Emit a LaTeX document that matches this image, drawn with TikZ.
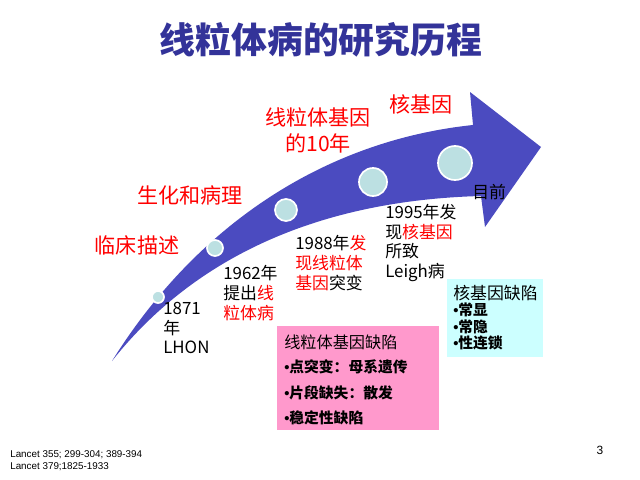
\documentclass[tikz,border=0pt]{standalone}
\usepackage{fontspec}
\setmainfont{Noto Sans CJK SC}
\newfontfamily\reffont{Liberation Sans}
\usepackage{xcolor}
\definecolor{arrowblue}{HTML}{4B4BC0}
\definecolor{titleblue}{HTML}{333399}
\definecolor{dotfill}{HTML}{BCE0E2}
\definecolor{mitobox}{HTML}{FF99CC}
\definecolor{nucbox}{HTML}{CCFFFF}
\usetikzlibrary{positioning, calc}
\newcommand{\bul}{{\reffont •}}

\begin{document}
\begin{tikzpicture}[
        x=0.025cm, y=-0.025cm,
        stage_label/.style={
            text=red,
            font=\fontsize{15}{18.5}\selectfont,
            inner sep=0pt
        },
        event_note/.style={
            anchor=west,
            align=left,
            inner sep=0pt,
            font=\fontsize{12}{14.2}\selectfont
        },
        milestone/.style={
            circle,
            fill=dotfill,
            draw=white,
            line width=1.2pt,
            inner sep=0pt
        },
        defect_box/.style={
            rectangle,
            anchor=north west,
            inner sep=0pt
        },
        box_item/.style={
            anchor=west,
            inner sep=0pt,
            font=\fontsize{10.5}{12}\selectfont\bfseries
        }
    ]
    \useasboundingbox (0,0) rectangle (640,480);

    % Title
    \node[font=\fontsize{25.5}{30}\selectfont\bfseries, text=titleblue] (title) at (321,40) {线粒体病的研究历程};

    % Rising arrow
    \fill[arrowblue] (112,361) .. controls (200,220) and (330,140) .. (473,125)
        -- (470,92) -- (541,147) -- (485,227) -- (481,196)
        .. controls (330,200) and (200,250) .. (112,361) -- cycle;

    % Milestones on the arrow
    \node[milestone, minimum size=0.3cm] (m_1871) at (158,297) {};
    \node[milestone, minimum size=0.4cm] (m_1962) at (215,248) {};
    \node[milestone, minimum size=0.55cm] (m_1988) at (286,210) {};
    \node[milestone, minimum size=0.7cm] (m_1995) at (373,182) {};
    \node[milestone, minimum size=0.85cm] (m_now) at (455,163) {};

    % Stages above the arrow
    \node[stage_label] (s_clinic) at (137,245) {临床描述};
    \node[stage_label] (s_biochem) at (190,195) {生化和病理};
    \node[stage_label, align=center] (s_mito) at (318,130) {线粒体基因\\的10年};
    \node[stage_label] (s_nuc) at (421,104) {核基因};

    % Events below the arrow
    \node[event_note] (n_1871) at (163,328) {1871\\年\\LHON};
    \node[event_note] (n_1962) at (223,293) {1962年\\提出\textcolor{red}{线}\\\textcolor{red}{粒体病}};
    \node[event_note] (n_1988) at (295,263) {1988年\textcolor{red}{发}\\\textcolor{red}{现线粒体}\\\textcolor{red}{基因}突变};
    \node[event_note] (n_1995) at (385,243) {1995年发\\现\textcolor{red}{核基因}\\所致\\Leigh病};
    \node[event_note] (n_now) at (472,192) {目前};

    % Mitochondrial gene defects
    \node[defect_box, fill=mitobox, minimum width=4.03cm, minimum height=2.6cm] (mito_box) at (277,326) {};
    \node[anchor=west, inner sep=0pt, font=\fontsize{11.5}{14}\selectfont] (mito_head) at ($(mito_box.north west)+(7,16)$) {线粒体基因缺陷};
    \node[box_item] (mito_a) at ($(mito_head.west)+(0,25)$) {\bul 点突变：母系遗传};
    \node[box_item] (mito_b) at ($(mito_a.west)+(0,26)$) {\bul 片段缺失：散发};
    \node[box_item] (mito_c) at ($(mito_b.west)+(0,25)$) {\bul 稳定性缺陷};

    % Nuclear gene defects
    \node[defect_box, fill=nucbox, minimum width=2.4cm, minimum height=1.95cm] (nuc_box) at (447,279) {};
    \node[anchor=west, inner sep=0pt, font=\fontsize{12}{14}\selectfont] (nuc_head) at ($(nuc_box.north west)+(6,14)$) {核基因缺陷};
    \node[box_item] (nuc_a) at ($(nuc_head.west)+(0,17)$) {\bul 常显};
    \node[box_item] (nuc_b) at ($(nuc_a.west)+(0,16.5)$) {\bul 常隐};
    \node[box_item] (nuc_c) at ($(nuc_b.west)+(0,16)$) {\bul 性连锁};

    % References and page number
    \node[anchor=west, align=left, inner sep=0pt, font=\reffont\fontsize{7}{8.8}\selectfont] (refs) at (10,461) {Lancet 355; 299-304; 389-394\\Lancet 379;1825-1933};
    \node[inner sep=0pt, font=\reffont\fontsize{8.5}{10}\selectfont] (page_no) at (600,450) {3};

\end{tikzpicture}
\end{document}
